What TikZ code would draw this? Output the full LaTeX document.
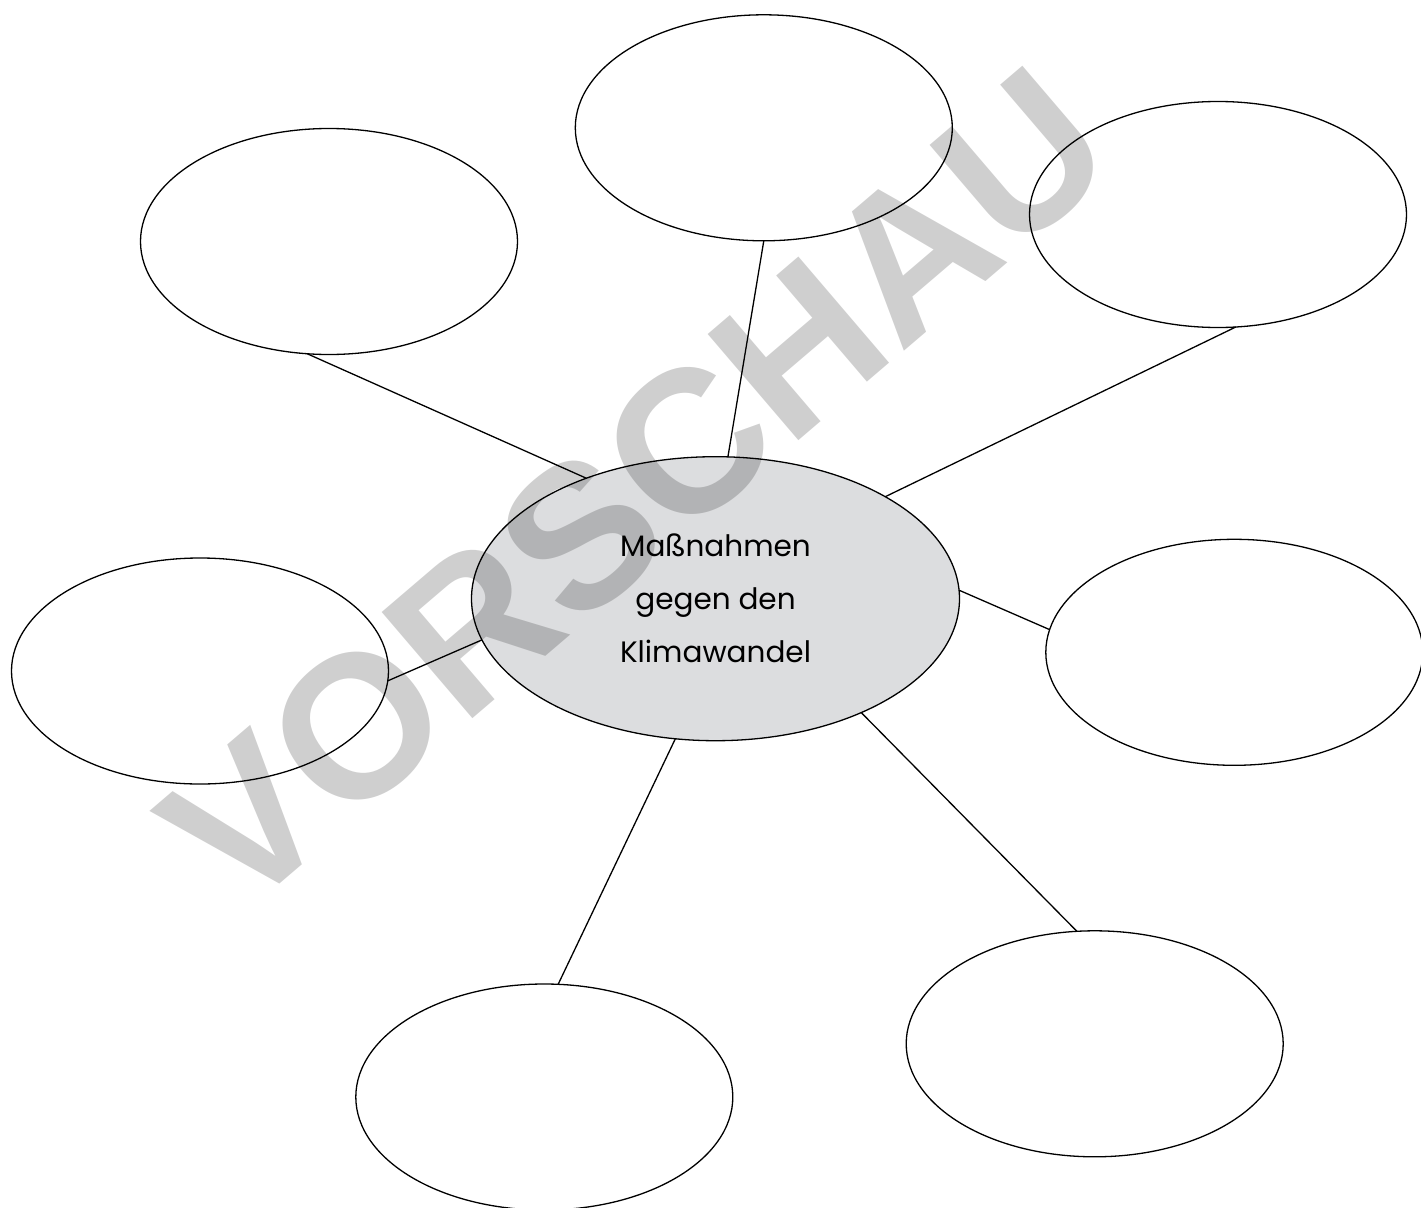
\documentclass[tikz,border=0pt]{standalone}
\usepackage{fontspec}
\setmainfont{Poppins}
\newfontfamily\wmfont{Liberation Sans}
\usetikzlibrary{shapes.geometric}
\definecolor{hubfill}{RGB}{220,221,223}
\begin{document}
\begin{tikzpicture}[x=1pt,y=-1pt,
  bubble/.style={ellipse, draw, line width=1.3pt, minimum width=377pt, minimum height=226pt, inner sep=0pt, outer sep=0pt},
  hub/.style={ellipse, draw, line width=1.3pt, fill=hubfill, minimum width=488pt, minimum height=284pt, inner sep=0pt, outer sep=0pt, align=center, font=\fontsize{29.5}{53}\selectfont},
  link/.style={line width=1.3pt},
  stamp/.style={text opacity=0.19, font=\wmfont\bfseries\fontsize{203}{203}\selectfont, rotate=40.5, inner sep=0pt}]
\useasboundingbox (0,0) rectangle (1421,1207);
\node[hub] (c) at (715.5,598.7) {Maßnahmen\\gegen den\\Klimawandel};
\node[bubble] (tl) at (329,241.5) {};
\node[bubble] (tc) at (763.8,127.8) {};
\node[bubble] (tr) at (1218,214.5) {};
\node[bubble] (l) at (200,671) {};
\node[bubble] (r) at (1234.3,652.3) {};
\node[bubble] (br) at (1094.7,1043.8) {};
\node[bubble] (b) at (544.3,1097) {};
\draw[link] (tl.259.3) -- (c.137.8);
\draw[link] (tc.270) -- (c.85.5);
\draw[link] (tr.279.4) -- (c.31.7);
\draw[link] (l.357.3) -- (c.190);
\draw[link] (r.173.6) -- (c.2.8);
\draw[link] (br.99.9) -- (c.322.2);
\draw[link] (b.83.7) -- (c.254.4);
\node[stamp] (wm) at (636,488) {VORSCHAU};
\end{tikzpicture}
\end{document}
